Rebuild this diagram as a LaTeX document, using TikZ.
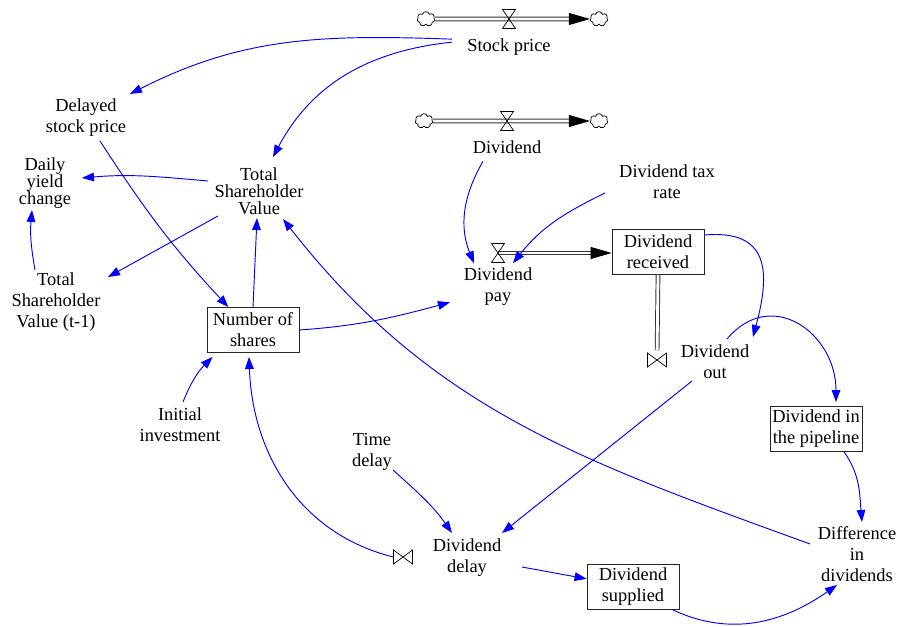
\documentclass[tikz,border=0pt]{standalone}
\usepackage{fontspec}
\setmainfont{Liberation Serif}
\usetikzlibrary{arrows.meta, shapes.symbols, positioning, calc}

\begin{document}
\begin{tikzpicture}[x=0.03cm, y=0.03cm,
  var/.style={align=center, inner sep=1pt, font=\fontsize{15.7}{17.9}\selectfont},
  tight/.style={font=\fontsize{15.7}{14.6}\selectfont},
  level/.style={draw=black!85, line width=0.7pt, align=center, minimum width=2.76cm, minimum height=1.35cm, inner sep=1pt, font=\fontsize{15.7}{17.9}\selectfont},
  link/.style={draw=blue, line width=0.8pt, -{Triangle[length=3.6mm,width=2.6mm]}, blue},
  pipe/.style={draw=black!80, line width=0.8pt, double=white, double distance=2.4pt},
  pipetip/.style={-{Triangle[length=6.3mm,width=3.6mm]}, line width=0.5pt},
  cloudy/.style={cloud, draw, cloud puffs=7, aspect=1.3, minimum width=0.54cm, minimum height=0.44cm, inner sep=0pt, line width=0.6pt},
  valve/.style={inner sep=0pt, minimum size=0.57cm},
  hourglass/.pic={\draw[line width=0.6pt] (-6.5,9.5) -- (6.5,9.5) -- (-6.5,-9.5) -- (6.5,-9.5) -- cycle;},
  bowtie/.pic={\draw[line width=0.6pt] (-9.5,7) -- (-9.5,-7) -- (9.5,7) -- (9.5,-7) -- cycle;}
]
\useasboundingbox (0,0) rectangle (898,-627);

% ── Flows (pipes, clouds, valves) ─────────────────────────────
\node[cloudy] (csp1) at (426,-19) {};
\node[cloudy] (csp2) at (599,-19) {};
\node[valve]  (vsp)  at (509,-19) {};
\node[cloudy] (cdv1) at (424,-121) {};
\node[cloudy] (cdv2) at (599,-121) {};
\node[valve]  (vdv)  at (507,-121) {};
\node[valve]  (vdp)  at (498,-253) {};
\node[valve]  (vdout) at (657,-360) {};
\node[valve]  (vdd)  at (403,-557) {};

% ── Variables ─────────────────────────────────────────────────
\node[var, below=0.26cm of vsp] (sp)  {Stock price};
\node[var, below=0.26cm of vdv] (div) {Dividend};
\node[var, below=0.1cm of vdp]  (dp)  {Dividend\\pay};
\node[var] (dsp)  at (86,-118)  {Delayed\\stock price};
\node[var, tight] (dyc) at (45,-183) {Daily\\yield\\change};
\node[var, tight] (tsv) at (259,-191) {Total\\Shareholder\\Value};
\node[var] (tsvp) at (56,-302)  {Total\\Shareholder\\Value (t-1)};
\node[var] (ii)   at (180,-425) {Initial\\investment};
\node[var] (dtr)  at (667,-182) {Dividend tax\\rate};
\node[var] (dout) at (715,-362) {Dividend\\out};
\node[var] (did)  at (857,-554) {Difference\\in\\dividends};
\node[var] (dd)   at (467,-558) {Dividend\\delay};
\node[var] (td)   at (372,-452) {Time\\delay};

% ── Stocks ────────────────────────────────────────────────────
\node[level] (nos) at (253,-330) {Number of\\shares};
\node[level] (dr)  at (658,-252) {Dividend\\received};
\node[level] (dip) at (816,-429) {Dividend in\\the pipeline};
\node[level] (ds)  at (633,-587) {Dividend\\supplied};

% ── Pipes ─────────────────────────────────────────────────────
\draw[pipe, shorten >=6.3mm] (csp1.east) -- (csp2.west);
\draw[pipetip] ([xshift=-6.3mm]csp2.west) -- (csp2.west);
\draw[pipe, shorten >=6.3mm] (cdv1.east) -- (cdv2.west);
\draw[pipetip] ([xshift=-6.3mm]cdv2.west) -- (cdv2.west);
\draw[pipe, shorten >=6mm] (vdp.center) -- (vdp.center -| dr.west);
\draw[pipetip] ([xshift=-6mm]vdp.center -| dr.west) -- (vdp.center -| dr.west);
\draw[pipe] (dr.south) -- (vdout);

\pic at (vsp) {hourglass};
\pic at (vdv) {hourglass};
\pic at (vdp) {hourglass};
\pic at (vdout) {bowtie};
\pic at (vdd) {bowtie};

% ── Links ─────────────────────────────────────────────────────
\draw[link] ([shift={(-57,8)}]sp.center) to[out=178,in=27] ([shift={(44,24)}]dsp.center);
\draw[link] ([shift={(-57,5)}]sp.center) to[out=186,in=62] ([shift={(14,34)}]tsv.center);
\draw[link] ([shift={(14,-23)}]dsp.center) to[out=-57,in=133] ([xshift=-21]nos.north);
\draw[link] ([shift={(-51,10)}]tsv.center) to[out=175,in=5] ([shift={(37,5)}]dyc.center);
\draw[link] ([shift={(-41,-25)}]tsv.center) -- ([shift={(52,25)}]tsvp.center);
\draw[link] ([shift={(-21,32)}]tsvp.center) to[out=100,in=-95] ([shift={(-13,-27)}]dyc.center);
\draw[link] (nos.north) -- ([shift={(-2,-27)}]tsv.center);
\draw[link] ([shift={(-47,10)}]did.center) to[out=160,in=-52] ([shift={(24,-28)}]tsv.center);
\draw[link] (nos.east) to[out=4,in=195] ([shift={(-48,-16)}]dp.center);
\draw[link] ([shift={(3,23)}]ii.center) to[out=68,in=225] ([shift={(6,-4)}]nos.south west);
\draw[link] (vdd.west) to[out=166,in=-88] ([shift={(-4,-4)}]nos.south);
\draw[link] ([shift={(-24,-14)}]div.center) to[out=240,in=112] ([shift={(-24,23)}]dp.center);
\draw[link] ([shift={(-62,-11)}]dtr.center) to[out=206,in=52] ([shift={(15,23)}]dp.center);
\draw[link] ([shift={(0,17)}]dr.east) to[out=5,in=75,looseness=1.5] ([shift={(38,25)}]dout.center);
\draw[link] ([shift={(12,23)}]dout.center) to[out=50,in=90,looseness=1.4] ([shift={(20,4)}]dip.north);
\draw[link] ([shift={(-23,-19)}]dout.center) -- ([shift={(35,25)}]dd.center);
\draw[link] ([shift={(21,-18)}]td.center) to[out=-42,in=125] ([shift={(-15,25)}]dd.center);
\draw[link] ([shift={(55,-9)}]dd.center) -- (ds.170);
\draw[link] ([xshift=24]dip.south) to[out=-55,in=95] ([shift={(5,32)}]did.center);
\draw[link] ([xshift=34]ds.south) to[out=-25,in=215] ([shift={(-20,-31)}]did.center);
\end{tikzpicture}
\end{document}
